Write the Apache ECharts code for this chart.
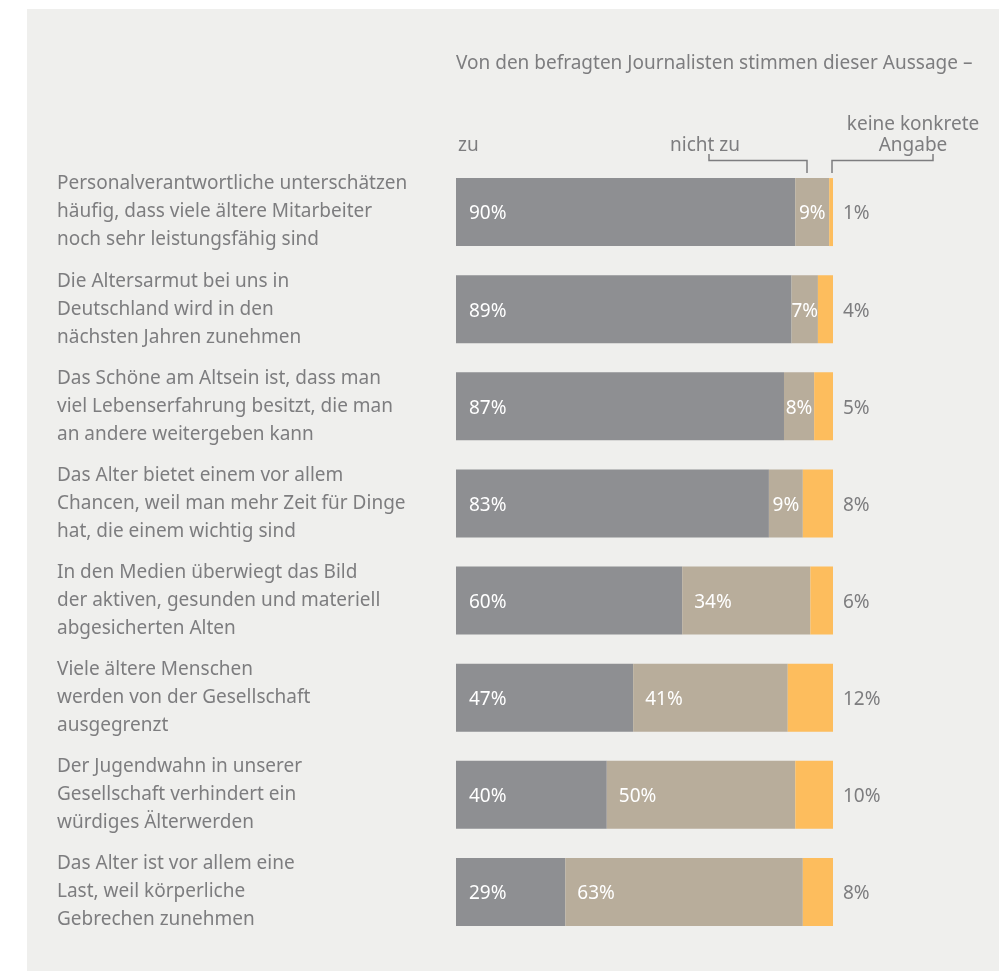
<!DOCTYPE html>
<html>
<head>
<meta charset="utf-8">
<script src="https://cdn.jsdelivr.net/npm/echarts@6/dist/echarts.min.js"></script>
<style>
html,body{margin:0;padding:0;background:#ffffff;}
#c{width:999px;height:971px;}
</style>
</head>
<body>
<div id="c"></div>
<script>
var categories = [
  'Personalverantwortliche unterschätzen\nhäufig, dass viele ältere Mitarbeiter\nnoch sehr leistungsfähig sind',
  'Die Altersarmut bei uns in\nDeutschland wird in den\nnächsten Jahren zunehmen',
  'Das Schöne am Altsein ist, dass man\nviel Lebenserfahrung besitzt, die man\nan andere weitergeben kann',
  'Das Alter bietet einem vor allem\nChancen, weil man mehr Zeit für Dinge\nhat, die einem wichtig sind',
  'In den Medien überwiegt das Bild\nder aktiven, gesunden und materiell\nabgesicherten Alten',
  'Viele ältere Menschen\nwerden von der Gesellschaft\nausgegrenzt',
  'Der Jugendwahn in unserer\nGesellschaft verhindert ein\nwürdiges Älterwerden',
  'Das Alter ist vor allem eine\nLast, weil körperliche\nGebrechen zunehmen'
];
var zuValues = [90, 89, 87, 83, 60, 47, 40, 29];
var nichtZuValues = [9, 7, 8, 9, 34, 41, 50, 63];
var keineAngabeValues = [1, 4, 5, 8, 6, 12, 10, 8];
var seriesNames = ['zu', 'nicht zu', 'keine konkrete Angabe'];
var headerText = 'Von den befragten Journalisten stimmen dieser Aussage –';

var FONT = '"Noto Sans", sans-serif';
var FS = 19;
var TXT = '#7d7d7f';
var GFONT = FS + 'px "Noto Sans", sans-serif';

var chart = echarts.init(document.getElementById('c'), null, {renderer: 'canvas'});

function pctFmt(p){ return p.value + '%'; }

var nichtZuData = nichtZuValues.map(function(v){
  return {
    value: v,
    label: v < 20 ? {position: 'inside'} : {position: 'insideLeft', distance: 12}
  };
});

var option = {
  backgroundColor: '#ffffff',
  animation: false,
  grid: {left: 456, right: 166, top: 163.5, bottom: 30.5, containLabel: false},
  xAxis: {
    type: 'value', min: 0, max: 100, show: false
  },
  yAxis: {
    type: 'category',
    data: categories,
    inverse: true,
    axisLine: {show: false},
    axisTick: {show: false},
    splitLine: {show: false},
    axisLabel: {
      align: 'left',
      margin: 399,
      color: TXT,
      fontFamily: FONT,
      fontSize: FS,
      lineHeight: 28
    }
  },
  graphic: [
    {type: 'rect', z: -10, silent: true, shape: {x: 27, y: 9, width: 972, height: 962}, style: {fill: '#efefed'}},
    {type: 'text', left: 456, top: 54, style: {text: headerText, fill: TXT, font: GFONT}},
    {type: 'text', left: 458, top: 136, style: {text: seriesNames[0], fill: TXT, font: GFONT}},
    {type: 'text', left: 670, top: 136, style: {text: seriesNames[1], fill: TXT, font: GFONT}},
    {type: 'text', x: 913, y: 114, style: {text: 'keine konkrete\nAngabe', fill: TXT, align: 'center', lineHeight: 21, font: GFONT}},
    {type: 'polyline', silent: true, shape: {points: [[709, 154], [709, 160.5], [807, 160.5], [807, 173]]}, style: {stroke: '#7d7d7f', lineWidth: 1.5, fill: null}},
    {type: 'polyline', silent: true, shape: {points: [[832, 173], [832, 160.5], [933, 160.5], [933, 154]]}, style: {stroke: '#7d7d7f', lineWidth: 1.5, fill: null}}
  ],
  series: [
    {
      name: seriesNames[0], type: 'bar', stack: 'a', barWidth: 68,
      data: zuValues,
      itemStyle: {color: '#8e8f92'},
      label: {show: true, position: 'insideLeft', distance: 13, offset: [0, 2], formatter: pctFmt, color: '#ffffff', fontFamily: FONT, fontSize: FS}
    },
    {
      name: seriesNames[1], type: 'bar', stack: 'a', barWidth: 68,
      data: nichtZuData,
      itemStyle: {color: '#b8ad9b'},
      label: {show: true, offset: [0, 2], formatter: pctFmt, color: '#ffffff', fontFamily: FONT, fontSize: FS}
    },
    {
      name: seriesNames[2], type: 'bar', stack: 'a', barWidth: 68,
      data: keineAngabeValues,
      itemStyle: {color: '#fdbd5d'},
      label: {show: true, position: 'right', distance: 10, offset: [0, 2], formatter: pctFmt, color: TXT, fontFamily: FONT, fontSize: FS}
    }
  ]
};
chart.setOption(option);
</script>
</body>
</html>
